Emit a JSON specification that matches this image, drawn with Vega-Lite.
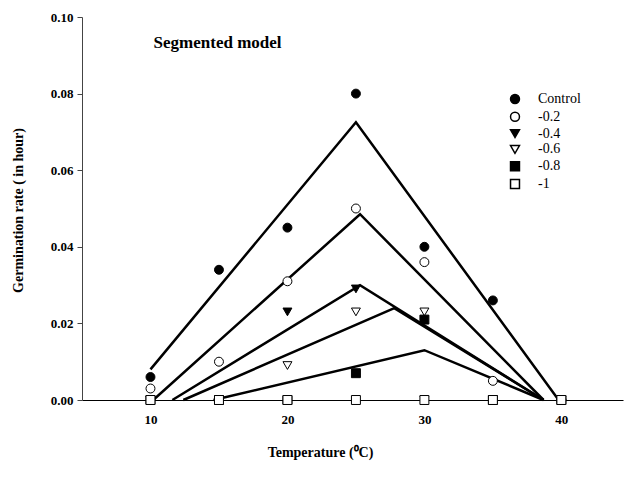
{
  "$schema": "https://vega.github.io/schema/vega-lite/v6.json",
  "autosize": "none",
  "width": 541,
  "height": 383,
  "padding": {"left": 82, "top": 17, "right": 1, "bottom": 88},
  "background": "white",
  "config": {
    "view": {"stroke": null},
    "font": "Liberation Serif"
  },
  "datasets": {
    "lines": [
      {"series": "Control", "temp": 10, "rate": 0.008},
      {"series": "Control", "temp": 25, "rate": 0.0725},
      {"series": "Control", "temp": 39.8, "rate": 0},
      {"series": "-0.2", "temp": 10.2, "rate": 0},
      {"series": "-0.2", "temp": 25.3, "rate": 0.0485},
      {"series": "-0.2", "temp": 38.7, "rate": 0},
      {"series": "-0.4", "temp": 11.6, "rate": 0},
      {"series": "-0.4", "temp": 25.3, "rate": 0.030},
      {"series": "-0.4", "temp": 38.7, "rate": 0},
      {"series": "-0.6", "temp": 12.4, "rate": 0},
      {"series": "-0.6", "temp": 27.8, "rate": 0.024},
      {"series": "-0.6", "temp": 38.7, "rate": 0},
      {"series": "-0.8", "temp": 14.6, "rate": 0},
      {"series": "-0.8", "temp": 30.0, "rate": 0.013},
      {"series": "-0.8", "temp": 38.7, "rate": 0}
    ],
    "points": [
      {"series": "Control", "temp": 10, "rate": 0.006},
      {"series": "Control", "temp": 15, "rate": 0.034},
      {"series": "Control", "temp": 20, "rate": 0.045},
      {"series": "Control", "temp": 25, "rate": 0.080},
      {"series": "Control", "temp": 30, "rate": 0.040},
      {"series": "Control", "temp": 35, "rate": 0.026},
      {"series": "Control", "temp": 40, "rate": 0},
      {"series": "-0.2", "temp": 10, "rate": 0.003},
      {"series": "-0.2", "temp": 15, "rate": 0.010},
      {"series": "-0.2", "temp": 20, "rate": 0.031},
      {"series": "-0.2", "temp": 25, "rate": 0.050},
      {"series": "-0.2", "temp": 30, "rate": 0.036},
      {"series": "-0.2", "temp": 35, "rate": 0.005},
      {"series": "-0.2", "temp": 40, "rate": 0},
      {"series": "-0.4", "temp": 10, "rate": 0},
      {"series": "-0.4", "temp": 15, "rate": 0},
      {"series": "-0.4", "temp": 20, "rate": 0.023},
      {"series": "-0.4", "temp": 25, "rate": 0.029},
      {"series": "-0.4", "temp": 30, "rate": 0},
      {"series": "-0.4", "temp": 35, "rate": 0},
      {"series": "-0.4", "temp": 40, "rate": 0},
      {"series": "-0.6", "temp": 10, "rate": 0},
      {"series": "-0.6", "temp": 15, "rate": 0},
      {"series": "-0.6", "temp": 20, "rate": 0.009},
      {"series": "-0.6", "temp": 25, "rate": 0.023},
      {"series": "-0.6", "temp": 30, "rate": 0.023},
      {"series": "-0.6", "temp": 35, "rate": 0},
      {"series": "-0.6", "temp": 40, "rate": 0},
      {"series": "-0.8", "temp": 10, "rate": 0},
      {"series": "-0.8", "temp": 15, "rate": 0},
      {"series": "-0.8", "temp": 20, "rate": 0},
      {"series": "-0.8", "temp": 25, "rate": 0.007},
      {"series": "-0.8", "temp": 30, "rate": 0.021},
      {"series": "-0.8", "temp": 35, "rate": 0},
      {"series": "-0.8", "temp": 40, "rate": 0},
      {"series": "-1", "temp": 10, "rate": 0},
      {"series": "-1", "temp": 15, "rate": 0},
      {"series": "-1", "temp": 20, "rate": 0},
      {"series": "-1", "temp": 25, "rate": 0},
      {"series": "-1", "temp": 30, "rate": 0},
      {"series": "-1", "temp": 35, "rate": 0},
      {"series": "-1", "temp": 40, "rate": 0}
    ],
    "label": [
      {"temp": 14.9, "rate": 0.0933, "text": "Segmented model"}
    ]
  },
  "encoding": {
    "x": {
      "field": "temp", "type": "quantitative",
      "scale": {"domain": [5, 44.5], "nice": false, "zero": false},
      "axis": {
        "values": [10, 20, 30, 40],
        "ticks": false,
        "grid": false,
        "domainColor": "black",
        "domainWidth": 1,
        "labelFont": "Liberation Serif",
        "labelFontWeight": "bold",
        "labelFontSize": 13,
        "labelColor": "black",
        "labelPadding": 13,
        "title": "Temperature (⁰C)",
        "titleFont": "Liberation Serif",
        "titleFontWeight": "bold",
        "titleFontSize": 14,
        "titleColor": "black",
        "titleX": 238,
        "titleY": 52,
        "titleBaseline": "middle"
      }
    },
    "y": {
      "field": "rate", "type": "quantitative",
      "scale": {"domain": [0, 0.1], "nice": false},
      "axis": {
        "values": [0, 0.02, 0.04, 0.06, 0.08, 0.1],
        "format": ".2f",
        "grid": false,
        "tickSize": 5,
        "tickColor": "#444",
        "domainColor": "#444",
        "domainWidth": 1,
        "labelFont": "Liberation Serif",
        "labelFontWeight": "bold",
        "labelFontSize": 13,
        "labelColor": "black",
        "labelPadding": 4,
        "title": "Germination rate ( in hour)",
        "titleFont": "Liberation Serif",
        "titleFontWeight": "bold",
        "titleFontSize": 14,
        "titleColor": "black",
        "titleX": -64,
        "titleY": 193,
        "titleAlign": "center",
        "titleBaseline": "middle",
        "titleAngle": -90
      }
    }
  },
  "layer": [
    {
      "data": {"name": "lines"},
      "mark": {"type": "line", "color": "black", "strokeWidth": 2.5},
      "encoding": {
        "detail": {"field": "series"}
      }
    },
    {
      "data": {"name": "points"},
      "mark": {"type": "point", "filled": true, "size": 80, "stroke": "black", "strokeWidth": 1, "opacity": 1},
      "encoding": {
        "shape": {
          "field": "series", "type": "nominal",
          "scale": {
            "domain": ["Control", "-0.2", "-0.4", "-0.6", "-0.8", "-1"],
            "range": ["circle", "circle", "triangle-down", "triangle-down", "square", "square"]
          },
          "legend": {
            "title": null,
            "orient": "none",
            "legendX": 426,
            "legendY": 75,
            "symbolSize": 80,
            "labelFont": "Liberation Serif",
            "labelFontSize": 14,
            "labelColor": "black",
            "labelOffset": 16,
            "rowPadding": 1.8,
            "encode": {"symbols": {"update": {"stroke": {"value": "black"}, "strokeWidth": {"value": 1}, "opacity": {"value": 1}}}}
          }
        },
        "fill": {
          "field": "series", "type": "nominal",
          "scale": {
            "domain": ["Control", "-0.2", "-0.4", "-0.6", "-0.8", "-1"],
            "range": ["black", "white", "black", "white", "black", "white"]
          },
          "legend": {
            "title": null,
            "orient": "none",
            "legendX": 426,
            "legendY": 75,
            "symbolSize": 80,
            "labelFont": "Liberation Serif",
            "labelFontSize": 14,
            "labelColor": "black",
            "labelOffset": 16,
            "rowPadding": 1.8,
            "encode": {"symbols": {"update": {"stroke": {"value": "black"}, "strokeWidth": {"value": 1}, "opacity": {"value": 1}}}}
          }
        }
      }
    },
    {
      "data": {"name": "label"},
      "mark": {"type": "text", "font": "Liberation Serif", "fontWeight": "bold", "fontSize": 17, "color": "black", "align": "center", "baseline": "middle"},
      "encoding": {
        "text": {"field": "text"}
      }
    }
  ]
}
